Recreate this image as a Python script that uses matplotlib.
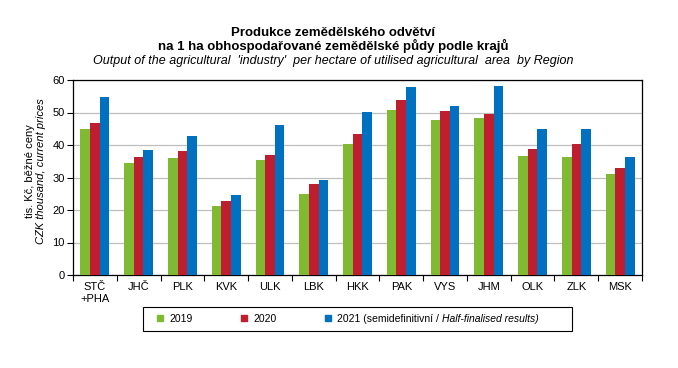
import matplotlib.pyplot as plt
import numpy as np
from matplotlib.lines import Line2D
from matplotlib.patches import Rectangle

plt.rcParams['font.family'] = ['Liberation Sans', 'DejaVu Sans']

regions = ["STČ\n+PHA", "JHČ", "PLK", "KVK", "ULK", "LBK", "HKK",
           "PAK", "VYS", "JHM", "OLK", "ZLK", "MSK"]
v2019 = [44.9, 34.5, 36.0, 21.3, 35.4, 24.9, 40.3, 50.8, 47.7, 48.3, 36.6, 36.3, 31.1]
v2020 = [46.8, 36.3, 38.2, 22.8, 36.9, 28.0, 43.4, 53.8, 50.5, 49.5, 38.8, 40.3, 32.9]
v2021 = [54.8, 38.5, 42.8, 24.6, 46.2, 29.2, 50.2, 57.8, 52.0, 58.2, 44.9, 44.9, 36.3]

colors = ["#80BA32", "#BE1E2D", "#0070C0"]

fig = plt.figure(figsize=(6.78, 3.68), dpi=100)
ax = fig.add_axes([73/678, 1-275/368, (642-73)/678, (275-80)/368])

x = np.arange(len(regions))
w = 0.22
ax.bar(x - w, v2019, w, color=colors[0], zorder=3)
ax.bar(x, v2020, w, color=colors[1], zorder=3)
ax.bar(x + w, v2021, w, color=colors[2], zorder=3)

ax.set_xlim(-0.5, len(regions) - 0.5)
ax.set_ylim(0, 60)
ax.set_yticks(range(0, 61, 10))
ax.yaxis.grid(True, color="#BFBFBF", lw=0.9, zorder=0)
ax.set_xticks(x)
ax.set_xticklabels(regions, fontsize=8)
ax.tick_params(axis="x", length=0, pad=5)
ax.set_xticks(np.arange(-0.5, len(regions)), minor=True)
ax.tick_params(axis="x", which="minor", length=4, width=0.8, direction="out")
ax.tick_params(axis="y", labelsize=8, length=4, width=0.8, direction="out", pad=2)
for s in ax.spines.values():
    s.set_linewidth(0.9)
    s.set_color("black")

fig.text(333/678, 1-33/368, "Produkce zemědělského odvětví", ha="center", va="center",
         fontsize=9.5, fontweight="bold")
fig.text(333/678, 1-46/368, "na 1 ha obhospodařované zemědělské půdy podle krajů", ha="center",
         va="center", fontsize=9.5, fontweight="bold")
fig.text(333/678, 1-61/368, "Output of the agricultural  'industry'  per hectare of utilised agricultural  area  by Region",
         ha="center", va="center", fontsize=9, style="italic")

fig.text(30/678, 0.535, "tis. Kč, běžné ceny", rotation=90, ha="center", va="center", fontsize=8)
fig.text(41/678, 0.535, "CZK thousand, current prices", rotation=90, ha="center", va="center",
         fontsize=8, style="italic")

handles = [Line2D([], [], marker="s", ls="none", color=c, markersize=4) for c in colors]
labels = ["2019", "2020", "2021 (semidefinitivní / "]
leg = ax.legend(handles, labels, loc="center left", bbox_to_anchor=(151/678, 1-319/368),
                bbox_transform=fig.transFigure, ncol=3, frameon=False, fontsize=7.5,
                handlelength=0.8, handletextpad=0.5, columnspacing=4.5, borderpad=0)
fig.add_artist(Rectangle((143/678, 1-331/368), (572-143)/678, 24/368, transform=fig.transFigure,
                         fill=False, edgecolor="black", lw=0.8))

fig.canvas.draw()
t = leg.get_texts()[2]
bb = t.get_window_extent()
fig.text(bb.x1/fig.bbox.width, bb.y0/fig.bbox.height, "Half-finalised results)",
         ha="left", va="bottom", fontsize=7.5, style="italic")

plt.savefig("out.png", dpi=100)
